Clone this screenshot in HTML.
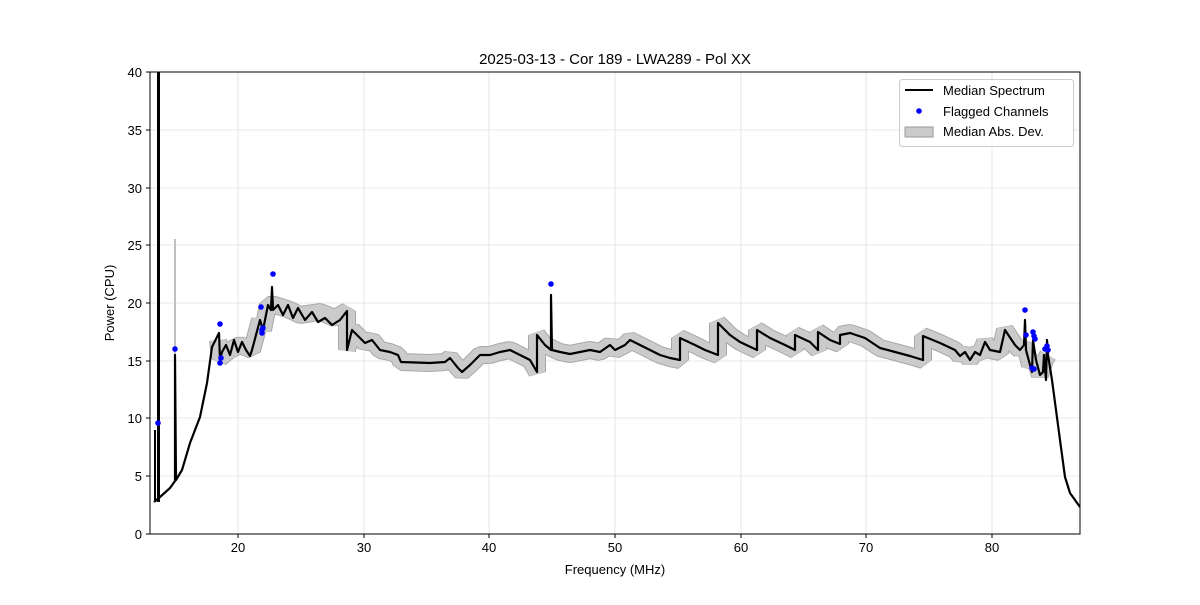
<!DOCTYPE html><html><head><meta charset="utf-8"><style>body{margin:0;background:#fff}svg text{font-family:"Liberation Sans",sans-serif;fill:#000}</style></head><body>
<svg width="1200" height="600" viewBox="0 0 1200 600" xmlns="http://www.w3.org/2000/svg">
<rect width="1200" height="600" fill="#fff"/>
<g stroke="#e0e0e0" stroke-width="0.8">
<line x1="238" y1="72" x2="238" y2="534"/><line x1="364" y1="72" x2="364" y2="534"/><line x1="489" y1="72" x2="489" y2="534"/><line x1="615" y1="72" x2="615" y2="534"/><line x1="741" y1="72" x2="741" y2="534"/><line x1="866" y1="72" x2="866" y2="534"/><line x1="992" y1="72" x2="992" y2="534"/>
<line x1="150" y1="476" x2="1080" y2="476"/><line x1="150" y1="418" x2="1080" y2="418"/><line x1="150" y1="361" x2="1080" y2="361"/><line x1="150" y1="303" x2="1080" y2="303"/><line x1="150" y1="245" x2="1080" y2="245"/><line x1="150" y1="188" x2="1080" y2="188"/><line x1="150" y1="130" x2="1080" y2="130"/>
</g>
<clipPath id="c"><rect x="150" y="72" width="930" height="462"/></clipPath>
<g clip-path="url(#c)" fill="none" stroke-linejoin="bevel" stroke-linecap="butt">
<line x1="175" y1="239" x2="175" y2="480" stroke="#c0c0c0" stroke-width="2"/>
<path d="M218,340 L220,358 L230,350 L240,345 L252,350 L260,320 L263,330 L268,305 L275,305 L290,310 L300,315 L320,312 L335,318 L347,311 L347,350 L352,330 L365,343 L372,340 L380,350 L390,352 L398,355 L401,362 L430,363 L445,362 L450,358 L458,368 L462,372 L470,365 L480,355 L490,355 L500,352 L510,350 L520,355 L530,360 L537,372 L537,335 L545,345 L560,352 L570,354 L580,352 L590,350 L600,352 L610,345 L615,350 L625,345 L630,340 L640,345 L650,350 L660,355 L670,358 L680,360 L680,338 L695,345 L705,350 L718,355 L718,323 L730,335 L740,342 L757,350 L757,330 L770,338 L785,345 L795,350 L795,335 L810,342 L818,350 L818,332 L830,340 L840,344 L840,335 L850,333 L865,338 L880,348 L895,352 L910,356 L923,360 L923,336 L940,343 L955,350 L960,356 L965,352 L970,360 L975,352 L980,355 L985,342 L990,350 L1000,352 L1005,330 L1015,345 L1020,350 L1025,345 L1030,365 L1035,360 L1040,375 L1045,360 L1048,355" stroke="#a8a8a8" stroke-width="18"/>
<path d="M218,340 L220,358 L230,350 L240,345 L252,350 L260,320 L263,330 L268,305 L275,305 L290,310 L300,315 L320,312 L335,318 L347,311 L347,350 L352,330 L365,343 L372,340 L380,350 L390,352 L398,355 L401,362 L430,363 L445,362 L450,358 L458,368 L462,372 L470,365 L480,355 L490,355 L500,352 L510,350 L520,355 L530,360 L537,372 L537,335 L545,345 L560,352 L570,354 L580,352 L590,350 L600,352 L610,345 L615,350 L625,345 L630,340 L640,345 L650,350 L660,355 L670,358 L680,360 L680,338 L695,345 L705,350 L718,355 L718,323 L730,335 L740,342 L757,350 L757,330 L770,338 L785,345 L795,350 L795,335 L810,342 L818,350 L818,332 L830,340 L840,344 L840,335 L850,333 L865,338 L880,348 L895,352 L910,356 L923,360 L923,336 L940,343 L955,350 L960,356 L965,352 L970,360 L975,352 L980,355 L985,342 L990,350 L1000,352 L1005,330 L1015,345 L1020,350 L1025,345 L1030,365 L1035,360 L1040,375 L1045,360 L1048,355" stroke="#cbcbcb" stroke-width="16"/>
<path d="M154,502 L160,497 L170,488 L175,481 L175,355 L176,480 L182,470 L190,443 L200,417 L207,383 L212,347 L217,337 L219,333 L220,360 L222,352 L226,345 L230,355 L234,340 L238,352 L242,342 L246,350 L250,356 L252,350 L256,335 L260,320 L263,330 L268,305 L271,310 L272,287 L273,310 L278,305 L283,315 L288,305 L293,318 L298,308 L305,320 L312,312 L318,322 L325,318 L332,325 L340,320 L347,311 L347,350 L352,330 L365,343 L372,340 L380,350 L390,352 L398,355 L401,362 L430,363 L445,362 L450,358 L458,368 L462,372 L470,365 L480,355 L490,355 L500,352 L510,350 L520,355 L530,360 L537,372 L537,335 L545,345 L551,350 L551,295 L552,350 L560,352 L570,354 L580,352 L590,350 L600,352 L610,345 L615,350 L625,345 L630,340 L640,345 L650,350 L660,355 L670,358 L680,360 L680,338 L695,345 L705,350 L718,355 L718,323 L730,335 L740,342 L757,350 L757,330 L770,338 L785,345 L795,350 L795,335 L810,342 L818,350 L818,332 L830,340 L840,344 L840,335 L850,333 L865,338 L880,348 L895,352 L910,356 L923,360 L923,336 L940,343 L955,350 L960,356 L965,352 L970,360 L975,352 L980,355 L985,342 L990,350 L1000,352 L1005,330 L1015,345 L1020,350 L1024,345 L1025,320 L1026,350 L1030,365 L1032,372 L1033,340 L1036,360 L1040,375 L1043,372 L1044,355 L1046,380 L1047,340 L1048,355 L1052,380 L1056,410 L1060,440 L1065,477 L1070,493 L1080,507" stroke="#000" stroke-width="2.2" stroke-linejoin="round"/>
<rect x="157" y="72" width="3" height="430" fill="#000" stroke="none"/>
<line x1="155" y1="500" x2="155" y2="430" stroke="#000" stroke-width="2"/>
</g>
<g fill="#0000ff">
<circle cx="158" cy="423" r="2.8"/><circle cx="175" cy="349" r="2.8"/><circle cx="220" cy="324" r="2.8"/><circle cx="220" cy="363" r="2.8"/><circle cx="221" cy="358" r="2.8"/><circle cx="261" cy="307" r="2.8"/><circle cx="262" cy="333" r="2.8"/><circle cx="262" cy="330" r="2.8"/><circle cx="263" cy="328" r="2.8"/><circle cx="273" cy="274" r="2.8"/><circle cx="551" cy="284" r="2.8"/><circle cx="1025" cy="310" r="2.8"/><circle cx="1026" cy="335" r="2.8"/><circle cx="1033" cy="332" r="2.8"/><circle cx="1034" cy="336" r="2.8"/><circle cx="1035" cy="339" r="2.8"/><circle cx="1032" cy="368" r="2.8"/><circle cx="1034" cy="369" r="2.8"/><circle cx="1045" cy="349" r="2.8"/><circle cx="1047" cy="346" r="2.8"/><circle cx="1048" cy="350" r="2.8"/>
</g>
<rect x="150" y="72" width="930" height="462" fill="none" stroke="#000" stroke-width="1"/>
<g stroke="#000" stroke-width="1">
<line x1="238" y1="534" x2="238" y2="538"/><line x1="364" y1="534" x2="364" y2="538"/><line x1="489" y1="534" x2="489" y2="538"/><line x1="615" y1="534" x2="615" y2="538"/><line x1="741" y1="534" x2="741" y2="538"/><line x1="866" y1="534" x2="866" y2="538"/><line x1="992" y1="534" x2="992" y2="538"/>
<line x1="146" y1="534" x2="150" y2="534"/><line x1="146" y1="476" x2="150" y2="476"/><line x1="146" y1="418" x2="150" y2="418"/><line x1="146" y1="361" x2="150" y2="361"/><line x1="146" y1="303" x2="150" y2="303"/><line x1="146" y1="245" x2="150" y2="245"/><line x1="146" y1="188" x2="150" y2="188"/><line x1="146" y1="130" x2="150" y2="130"/><line x1="146" y1="72" x2="150" y2="72"/>
</g>
<g font-size="13" text-anchor="middle">
<text x="238" y="552">20</text><text x="364" y="552">30</text><text x="489" y="552">40</text><text x="615" y="552">50</text><text x="741" y="552">60</text><text x="866" y="552">70</text><text x="992" y="552">80</text>
<text x="615" y="574">Frequency (MHz)</text>
<text x="615" y="64" font-size="15">2025-03-13 - Cor 189 - LWA289 - Pol XX</text>
<text transform="translate(114,303) rotate(-90)">Power (CPU)</text>
</g>
<g font-size="13" text-anchor="end">
<text x="142" y="539">0</text><text x="142" y="481">5</text><text x="142" y="423">10</text><text x="142" y="366">15</text><text x="142" y="308">20</text><text x="142" y="250">25</text><text x="142" y="193">30</text><text x="142" y="135">35</text><text x="142" y="77">40</text>
</g>
<rect x="899.5" y="79.5" width="174" height="67" rx="3" fill="#fff" fill-opacity="0.8" stroke="#ccc"/>
<line x1="905" y1="90" x2="933" y2="90" stroke="#000" stroke-width="2"/>
<circle cx="919" cy="111" r="2.8" fill="#0000ff"/>
<rect x="905" y="127" width="28" height="10" fill="#cbcbcb" stroke="#999"/>
<g font-size="13"><text x="943" y="95">Median Spectrum</text><text x="943" y="116">Flagged Channels</text><text x="943" y="136">Median Abs. Dev.</text></g>
</svg>
</body></html>
